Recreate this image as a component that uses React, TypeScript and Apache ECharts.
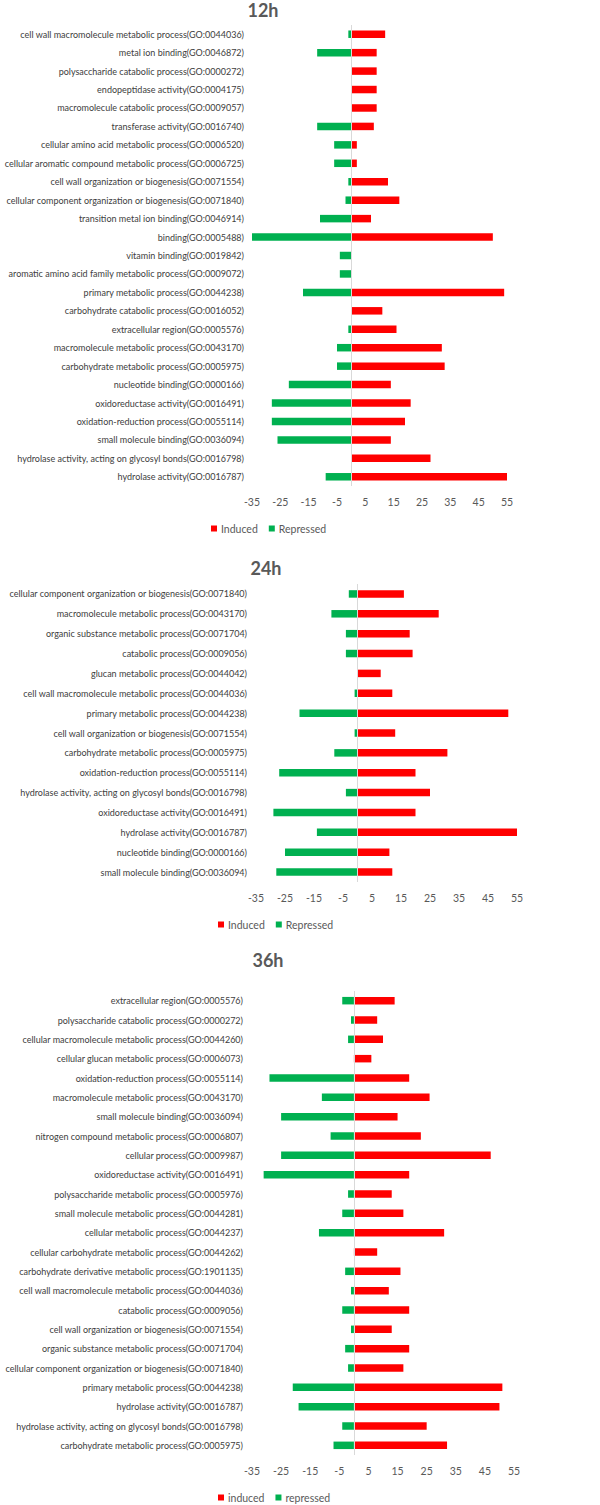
import React, { useEffect, useRef } from 'react';
import * as echarts from 'echarts';

// ---------- 12h ----------
const cats12 = [
  'cell wall macromolecule metabolic process(GO:0044036)',
  'metal ion binding(GO:0046872)',
  'polysaccharide catabolic process(GO:0000272)',
  'endopeptidase activity(GO:0004175)',
  'macromolecule catabolic process(GO:0009057)',
  'transferase activity(GO:0016740)',
  'cellular amino acid metabolic process(GO:0006520)',
  'cellular aromatic compound metabolic process(GO:0006725)',
  'cell wall organization or biogenesis(GO:0071554)',
  'cellular component organization or biogenesis(GO:0071840)',
  'transition metal ion binding(GO:0046914)',
  'binding(GO:0005488)',
  'vitamin binding(GO:0019842)',
  'aromatic amino acid family metabolic process(GO:0009072)',
  'primary metabolic process(GO:0044238)',
  'carbohydrate catabolic process(GO:0016052)',
  'extracellular region(GO:0005576)',
  'macromolecule metabolic process(GO:0043170)',
  'carbohydrate metabolic process(GO:0005975)',
  'nucleotide binding(GO:0000166)',
  'oxidoreductase activity(GO:0016491)',
  'oxidation-reduction process(GO:0055114)',
  'small molecule binding(GO:0036094)',
  'hydrolase activity, acting on glycosyl bonds(GO:0016798)',
  'hydrolase activity(GO:0016787)',
];
const induced12 = [12, 9, 9, 9, 9, 8, 2, 2, 13, 17, 7, 50, 0, 0, 54, 11, 16, 32, 33, 14, 21, 19, 14, 28, 55];
const repressed12 = [-1, -12, 0, 0, 0, -12, -6, -6, -1, -2, -11, -35, -4, -4, -17, 0, -1, -5, -5, -22, -28, -28, -26, 0, -9];

// ---------- 24h ----------
const cats24 = [
  'cellular component organization or biogenesis(GO:0071840)',
  'macromolecule metabolic process(GO:0043170)',
  'organic substance metabolic process(GO:0071704)',
  'catabolic process(GO:0009056)',
  'glucan metabolic process(GO:0044042)',
  'cell wall macromolecule metabolic process(GO:0044036)',
  'primary metabolic process(GO:0044238)',
  'cell wall organization or biogenesis(GO:0071554)',
  'carbohydrate metabolic process(GO:0005975)',
  'oxidation-reduction process(GO:0055114)',
  'hydrolase activity, acting on glycosyl bonds(GO:0016798)',
  'oxidoreductase activity(GO:0016491)',
  'hydrolase activity(GO:0016787)',
  'nucleotide binding(GO:0000166)',
  'small molecule binding(GO:0036094)',
];
const induced24 = [16, 28, 18, 19, 8, 12, 52, 13, 31, 20, 25, 20, 55, 11, 12];
const repressed24 = [-3, -9, -4, -4, 0, -1, -20, -1, -8, -27, -4, -29, -14, -25, -28];

// ---------- 36h ----------
const cats36 = [
  'extracellular region(GO:0005576)',
  'polysaccharide catabolic process(GO:0000272)',
  'cellular macromolecule metabolic process(GO:0044260)',
  'cellular glucan metabolic process(GO:0006073)',
  'oxidation-reduction process(GO:0055114)',
  'macromolecule metabolic process(GO:0043170)',
  'small molecule binding(GO:0036094)',
  'nitrogen compound metabolic process(GO:0006807)',
  'cellular process(GO:0009987)',
  'oxidoreductase activity(GO:0016491)',
  'polysaccharide metabolic process(GO:0005976)',
  'small molecule metabolic process(GO:0044281)',
  'cellular metabolic process(GO:0044237)',
  'cellular carbohydrate metabolic process(GO:0044262)',
  'carbohydrate derivative metabolic process(GO:1901135)',
  'cell wall macromolecule metabolic process(GO:0044036)',
  'catabolic process(GO:0009056)',
  'cell wall organization or biogenesis(GO:0071554)',
  'organic substance metabolic process(GO:0071704)',
  'cellular component organization or biogenesis(GO:0071840)',
  'primary metabolic process(GO:0044238)',
  'hydrolase activity(GO:0016787)',
  'hydrolase activity, acting on glycosyl bonds(GO:0016798)',
  'carbohydrate metabolic process(GO:0005975)',
];
const induced36 = [14, 8, 10, 6, 19, 26, 15, 23, 47, 19, 13, 17, 31, 8, 16, 12, 19, 13, 19, 17, 51, 50, 25, 32];
const repressed36 = [-4, -1, -2, 0, -29, -11, -25, -8, -25, -31, -2, -4, -12, 0, -3, -1, -4, -1, -3, -2, -21, -19, -4, -7];

const xTickLabels = [-35, -25, -15, -5, 5, 15, 25, 35, 45, 55];
const titles = ['12h', '24h', '36h'];
const legendNames = [
  ['Induced', 'Repressed'],
  ['Induced', 'Repressed'],
  ['induced', 'repressed'],
];

const RED = '#FF0000';
const GREEN = '#00B050';
const FONT = "Lato, 'Open Sans', sans-serif";

export default function App() {
  const ref = useRef<HTMLDivElement>(null);
  useEffect(() => {
    document.body.style.margin = '0';
    if (!ref.current) return;
    const chart = echarts.init(ref.current, undefined, { renderer: 'svg' });

    const layouts = [
      { top: 25, height: 461, left: 252, width: 255, labelMargin: 8, titleX: 263, titleTop: 1, legendLeft: 211, legendTop: 523 },
      { top: 584, height: 298, left: 256, width: 261, labelMargin: 9, titleX: 266, titleTop: 559, legendLeft: 218, legendTop: 919 },
      { top: 991, height: 464, left: 252, width: 262, labelMargin: 9, titleX: 268, titleTop: 951, legendLeft: 218, legendTop: 1492 },
    ];
    const data = [
      { cats: cats12, ind: induced12, rep: repressed12 },
      { cats: cats24, ind: induced24, rep: repressed24 },
      { cats: cats36, ind: induced36, rep: repressed36 },
    ];

    const grid: any[] = [];
    const xAxis: any[] = [];
    const yAxis: any[] = [];
    const series: any[] = [];
    const title: any[] = [];
    const legend: any[] = [];

    layouts.forEach((L, i) => {
      const d = data[i];
      grid.push({
        left: L.left,
        top: L.top,
        width: L.width,
        height: L.height,
        containLabel: false,
        outerBoundsMode: 'none',
      });
      xAxis.push({
        type: 'value',
        gridIndex: i,
        min: -35,
        max: 55,
        interval: 5,
        splitLine: { show: false },
        axisLine: { show: false },
        axisTick: { show: false },
        axisLabel: {
          margin: 10,
          fontSize: 10.5,
          color: '#595959',
          fontFamily: FONT,
          showMinLabel: true,
          showMaxLabel: true,
          formatter: (v: number) => (xTickLabels.includes(v) ? String(v) : ''),
        },
      });
      yAxis.push({
        type: 'category',
        gridIndex: i,
        data: d.cats,
        inverse: true,
        axisTick: { show: false },
        axisLine: { show: false },
        axisLabel: { margin: L.labelMargin, fontSize: 9, color: '#404040', fontFamily: FONT, interval: 0 },
      });
      series.push({
        type: 'bar',
        name: legendNames[i][0],
        xAxisIndex: i,
        yAxisIndex: i,
        stack: 'p' + i,
        barWidth: 7.5,
        data: d.ind,
        itemStyle: { color: RED },
        markLine: {
          symbol: 'none',
          silent: true,
          label: { show: false },
          lineStyle: { color: '#d9d9d9', type: 'solid', width: 1 },
          data: [{ xAxis: 0 }],
        },
      });
      series.push({
        type: 'bar',
        name: legendNames[i][1],
        xAxisIndex: i,
        yAxisIndex: i,
        stack: 'p' + i,
        barWidth: 7.5,
        data: d.rep,
        itemStyle: { color: GREEN },
      });
      title.push({
        text: titles[i],
        left: L.titleX,
        top: L.titleTop,
        textAlign: 'center',
        padding: 0,
        textStyle: { fontSize: 18, fontWeight: 'bold', color: '#595959', fontFamily: FONT },
      });
      legend.push({
        data: legendNames[i],
        left: L.legendLeft,
        top: L.legendTop,
        padding: 0,
        itemWidth: 6,
        itemHeight: 6,
        itemGap: 11,
        icon: 'rect',
        selectedMode: false,
        textStyle: { fontSize: 10.5, color: '#595959', fontFamily: FONT, padding: [0, 0, 0, -1] },
      });
    });

    chart.setOption({
      animation: false,
      backgroundColor: '#ffffff',
      title,
      legend,
      grid,
      xAxis,
      yAxis,
      series,
    });
    return () => chart.dispose();
  }, []);
  return <div ref={ref} style={{ width: 600, height: 1505 }} />;
}
